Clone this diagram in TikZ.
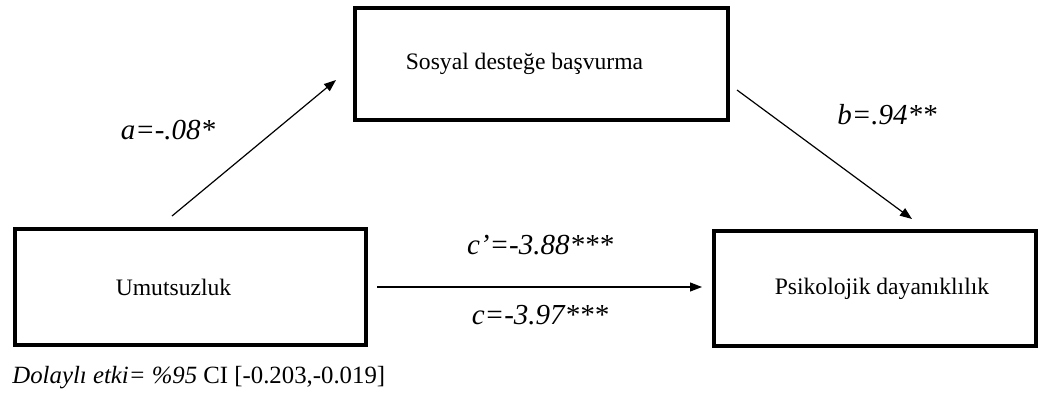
\documentclass[tikz,border=0pt]{standalone}
\usepackage{fontspec}
\setmainfont{Liberation Serif}
\usetikzlibrary{arrows.meta}
\begin{document}
\begin{tikzpicture}[x=0.5pt, y=-0.5pt,
    varbox/.style={draw, line width=2pt, rectangle, font=\fontsize{11.8}{13}\selectfont},
    path/.style={line width=0.6pt, -{Triangle[length=6pt, width=4.5pt]}},
    coef/.style={font=\fontsize{14.5}{17}\selectfont\itshape}]
    \useasboundingbox (0, 0) rectangle (1040, 396);
    % variables
    \node[varbox, minimum width=186.5pt, minimum height=56pt] (sosyal) at (541.5, 64) {Sosyal desteğe başvurma\kern17pt};
    \node[varbox, minimum width=175.5pt, minimum height=58pt] (umut) at (190.5, 287) {Umutsuzluk\kern17pt};
    \node[varbox, minimum width=161pt, minimum height=57.5pt] (psiko) at (875, 288.5) {\kern7pt Psikolojik dayanıklılık};
    % paths
    \coordinate (aStart) at ([shift={(-18.5, -11)}]umut.north);
    \coordinate (aEnd) at ([shift={(-17, 16)}]sosyal.west);
    \coordinate (bStart) at ([shift={(7, 26)}]sosyal.east);
    \coordinate (bEnd) at ([shift={(37, -10)}]psiko.north);
    \draw[path] (aStart) -- (aEnd);
    \draw[path] (bStart) -- (bEnd);
    \draw[path, shorten <=4.5pt, shorten >=5pt] (umut.east) -- (umut.east -| psiko.west);
    % coefficients
    \node[coef] (aLab) at (168, 130) {a=-.08*};
    \node[coef] (bLab) at (887, 115) {b=.94**};
    \node[coef] (cpLab) at (540, 245) {c'=-3.88***};
    \node[coef] (cLab) at (540, 315) {c=-3.97***};
    \node[anchor=west, inner sep=0pt, font=\fontsize{12.4}{14}\selectfont] (indirect) at (12, 378) {\textit{Dolaylı etki= \%95} CI [-0.203,-0.019]};
\end{tikzpicture}
\end{document}
